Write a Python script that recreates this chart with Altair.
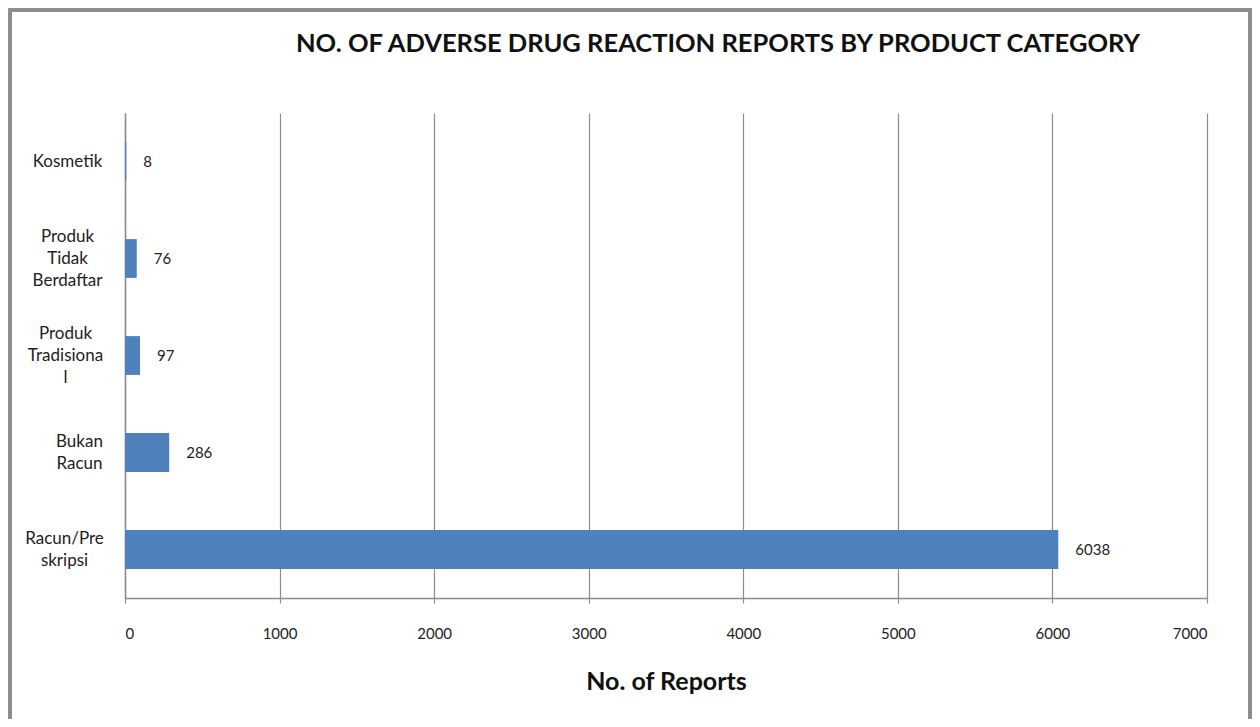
import altair as alt
import pandas as pd

categories = ["Kosmetik", "Produk|Tidak|Berdaftar", "Produk|Tradisiona|l", "Bukan|Racun", "Racun/Pre|skripsi"]
reports = [8, 76, 97, 286, 6038]
x_ticks = [0, 1000, 2000, 3000, 4000, 5000, 6000, 7000]

df = pd.DataFrame({"category": categories, "reports": reports})

FONT = "Lato"
GRID = "#8c8c8c"
W, H = 1082, 485
LINE_H = 22

# vertical shift so that multi-line labels are centred on their bar
label_offset = {
    "condition": [
        {"test": "length(split(datum.value, '|')) == 3", "value": -LINE_H},
        {"test": "length(split(datum.value, '|')) == 2", "value": -LINE_H / 2},
    ],
    "value": 0,
}
# horizontal placement of each label block (Excel-style)
label_padding = {
    "condition": [
        {"test": "datum.value == 'Bukan|Racun'", "value": 46},
        {"test": "datum.value == 'Racun/Pre|skripsi'", "value": 61},
        {"test": "datum.value == 'Produk|Tradisiona|l'", "value": 60},
    ],
    "value": 58,
}

y_enc = alt.Y(
    "category:N",
    sort=categories,
    scale=alt.Scale(paddingInner=0.6),
    axis=alt.Axis(
        title=None,
        ticks=False,
        domain=True,
        domainColor=GRID,
        domainWidth=1.5,
        labelExpr="split(datum.value, '|')",
        labelAlign="center",
        labelBaseline="middle",
        labelPadding=label_padding,
        labelOffset=label_offset,
        labelLineHeight=LINE_H,
        labelFont=FONT,
        labelFontSize=17,
        labelColor="#222222",
        labelLimit=200,
        grid=False,
    ),
)

x_enc = alt.X(
    "reports:Q",
    scale=alt.Scale(domain=[0, 7000], nice=False),
    axis=alt.Axis(
        title="No. of Reports",
        values=x_ticks,
        format="d",
        grid=True,
        gridColor=GRID,
        gridWidth=1.2,
        domainColor=GRID,
        domainWidth=1.5,
        tickColor=GRID,
        tickSize=5,
        tickWidth=1.2,
        labelFont=FONT,
        labelFontSize=15,
        labelColor="#222222",
        labelPadding=23,
        titleFont=FONT,
        titleFontSize=25,
        titleFontWeight="bold",
        titleColor="#111111",
        titlePadding=28,
    ),
)

bars = alt.Chart(df).mark_bar(color="#4F81BD").encode(x=x_enc, y=y_enc)

labels = alt.Chart(df).mark_text(
    align="left", baseline="middle", dx=17, font=FONT, fontSize=15, color="#222222"
).encode(x="reports:Q", y=alt.Y("category:N", sort=categories), text="reports:Q")

border = alt.Chart(df).mark_rect(
    fill=None, stroke="#8c8c8c", strokeWidth=3
).encode(
    x=alt.value(-115), x2=alt.value(1125), y=alt.value(-103), y2=alt.value(640)
)

chart = alt.layer(bars, labels, border).properties(
    width=W,
    height=H,
    padding={"left": 117, "top": 105, "right": 45, "bottom": 121},
    autosize=alt.AutoSizeParams(type="none"),
    title=alt.Title(
        "NO. OF ADVERSE DRUG REACTION REPORTS BY PRODUCT CATEGORY",
        font=FONT,
        fontSize=25.5,
        fontWeight="bold",
        color="#111111",
        anchor="middle",
        frame="group",
        dx=52,
        baseline="alphabetic",
        offset=-69,
    ),
).configure_view(stroke=None)

chart.save("out.html", embed_options={"renderer": "svg", "actions": False})
